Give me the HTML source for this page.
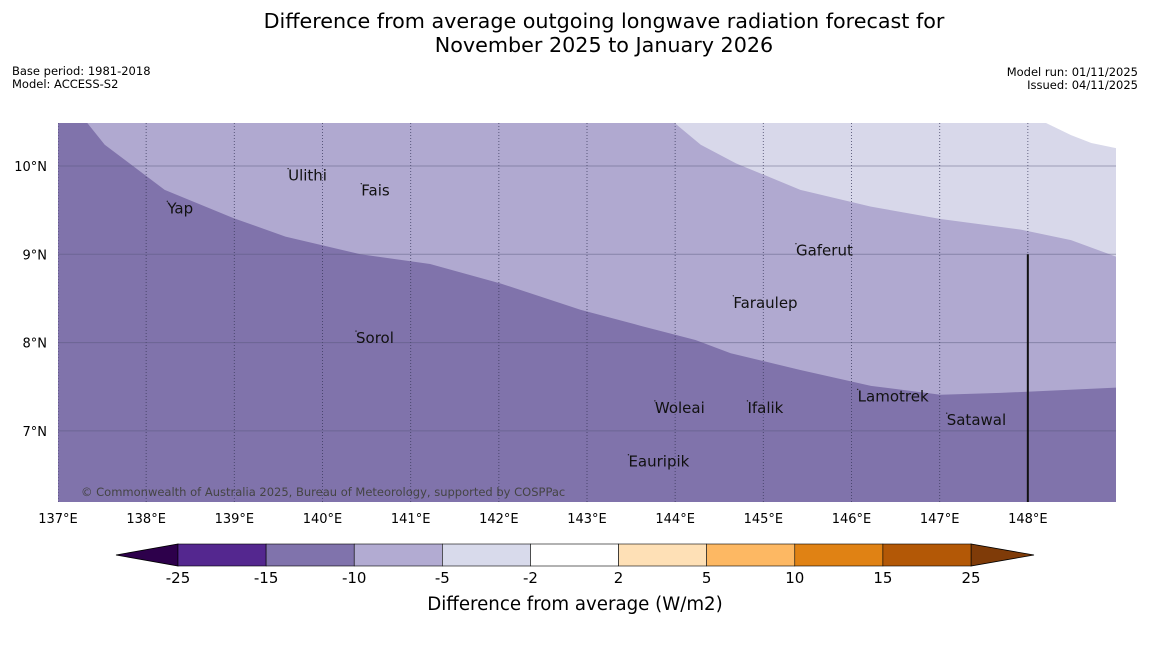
<!DOCTYPE html>
<html><head><meta charset="utf-8"><style>
body{margin:0;background:#fff;width:1150px;height:644px;overflow:hidden;font-family:"DejaVu Sans","Liberation Sans",sans-serif}
svg text{font-family:"DejaVu Sans","Liberation Sans",sans-serif}
</style></head><body>
<svg id="s" width="1150" height="644" viewBox="0 0 1150 644">
<text x="604" y="28" font-size="20.7" text-anchor="middle">Difference from average outgoing longwave radiation forecast for</text>
<text x="604" y="52" font-size="20.7" text-anchor="middle">November 2025 to January 2026</text>
<text x="12" y="75" font-size="11.5">Base period: 1981-2018</text>
<text x="12" y="88" font-size="11.5">Model: ACCESS-S2</text>
<text x="1138" y="76" font-size="11.5" text-anchor="end">Model run: 01/11/2025</text>
<text x="1138" y="89" font-size="11.5" text-anchor="end">Issued: 04/11/2025</text>
<g id="map"></g>
<g id="cb"></g>
<text x="575" y="610" font-size="18.2" text-anchor="middle">Difference from average (W/m2)</text>
</svg>
<script>
const NS="http://www.w3.org/2000/svg";
const lonTicks=[137,138,139,140,141,142,143,144,145,146,147,148];
const latTicks=[10,9,8,7];
const boundaryDarkLon=[137.33,137.53,138.21,138.99,139.58,140.43,141.22,142.02,142.93,143.61,144.23,144.63,145.42,146.22,147.01,147.69,149.01];
const boundaryDarkLat=[10.49,10.24,9.73,9.41,9.20,9.00,8.89,8.67,8.37,8.19,8.03,7.88,7.69,7.51,7.41,7.43,7.49];
const boundaryMidLon=[143.99,144.29,144.69,145.42,146.22,147.01,147.92,148.49,149.01];
const boundaryMidLat=[10.49,10.24,10.03,9.73,9.54,9.40,9.28,9.16,8.97];
const boundaryLightLon=[148.20,148.49,148.72,149.01];
const boundaryLightLat=[10.49,10.35,10.26,10.20];
const places=["Ulithi","Fais","Yap","Gaferut","Faraulep","Sorol","Woleai","Ifalik","Lamotrek","Satawal","Eauripik"];
const placeLon=[139.61,140.44,138.24,145.37,144.66,140.38,143.77,144.82,146.07,147.08,143.47];
const placeLat=[9.97,9.80,9.60,9.12,8.53,8.13,7.34,7.34,7.47,7.20,6.73];
const cbLevels=[-25,-15,-10,-5,-2,2,5,10,15,25];
const cbColors=["#54278f","#8073ac","#b2abd2","#d8daeb","#ffffff","#fee0b6","#fdb863","#e08214","#b35806"];
const X0=58,X1=1116,Y0=123,Y1=502;
const x=lon=>X0+(lon-137)*(X1-X0)/12;
const y=lat=>166+(10-lat)*88.3;
function el(t,a,p){const e=document.createElementNS(NS,t);for(const k in a)e.setAttribute(k,a[k]);p.appendChild(e);return e;}
const map=document.getElementById('map');
const cp=el('clipPath',{id:'clip'},map);el('rect',{x:X0,y:Y0,width:X1-X0,height:Y1-Y0},cp);
const g=el('g',{'clip-path':'url(#clip)'},map);
function poly(lons,lats,fill,name){
  let pts=[X0+','+Y0].concat(lons.map((l,i)=>x(l)+','+y(lats[i])));
  pts.push(X1+','+Y1);pts.push(X0+','+Y1);
  const p=el('polygon',{points:pts.join(' '),fill:fill},g);
  
  
}
poly(boundaryLightLon,boundaryLightLat,'#d8d8ea','region-minus5-to-minus2');
poly(boundaryMidLon,boundaryMidLat,'#b0a9d0','region-minus10-to-minus5');
poly(boundaryDarkLon,boundaryDarkLat,'#8073ab','region-minus15-to-minus10');
lonTicks.forEach(l=>{
  const ln=el('line',{x1:x(l),x2:x(l),y1:Y0,y2:Y1,stroke:'#333355','stroke-width':1,'stroke-dasharray':'1,2','stroke-opacity':0.7},g);
  
  
  const t=el('text',{x:x(l),y:523,'font-size':13,'text-anchor':'middle'},map);t.textContent=l+'°E';
  
  
});
latTicks.forEach(l=>{
  const ln=el('line',{x1:X0,x2:X1,y1:y(l),y2:y(l),stroke:'#555577','stroke-width':1,'stroke-opacity':0.45},g);
  
  
  const t=el('text',{x:47,y:y(l)+5,'font-size':13,'text-anchor':'end'},map);t.textContent=l+'°N';
  
  
});
const vl=el('line',{x1:x(148),x2:x(148),y1:y(9),y2:Y1,stroke:'#111','stroke-width':2},g);


places.forEach((n,i)=>{
  const px=x(placeLon[i]),py=y(placeLat[i]);
  const d=el('circle',{cx:px,cy:py,r:0.7,fill:'#222'},g);
  
  
  const t=el('text',{x:px,y:py+12,'font-size':15,fill:'#111'},g);t.textContent=n;
  
  
});
const cr=el('text',{x:81,y:496,'font-size':11.5,fill:'#444'},g);
cr.textContent='© Commonwealth of Australia 2025, Bureau of Meteorology, supported by COSPPac';


const cb=document.getElementById('cb');
const CB0=178,CB1=971,CBY=544,CBH=22,n=cbLevels.length-1;
const cx=i=>CB0+i*(CB1-CB0)/n;
let t1=el('polygon',{points:`${CB0},${CBY} ${CB0},${CBY+CBH} 116,${CBY+CBH/2}`,fill:'#2d004b',stroke:'#000','stroke-width':0.8},cb);


let t2=el('polygon',{points:`${CB1},${CBY} ${CB1},${CBY+CBH} 1034,${CBY+CBH/2}`,fill:'#7f3b08',stroke:'#000','stroke-width':0.8},cb);


cbColors.forEach((c,i)=>{
  const r=el('rect',{x:cx(i),y:CBY,width:cx(i+1)-cx(i),height:CBH,fill:c,stroke:'#000','stroke-width':0.6},cb);
  
  
});
cbLevels.forEach((v,i)=>{
  const t=el('text',{x:cx(i),y:583,'font-size':15,'text-anchor':'middle'},cb);t.textContent=v;
  
  
});
</script>
</body></html>
